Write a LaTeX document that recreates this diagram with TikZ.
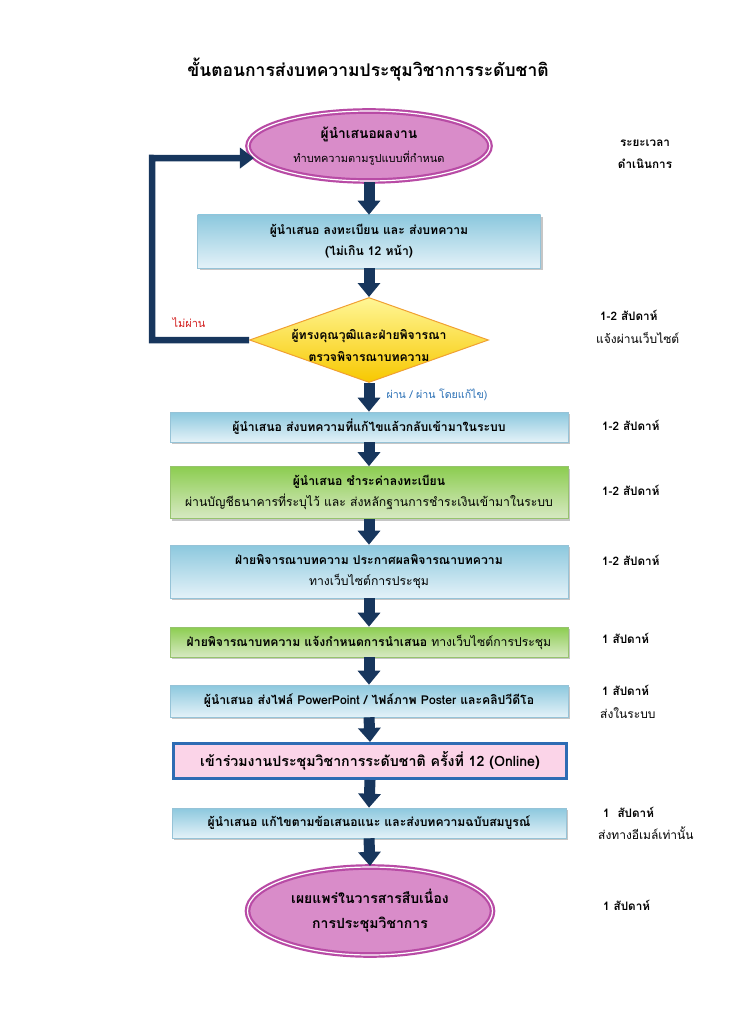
\documentclass[tikz,border=0pt]{standalone}
\usepackage{fontspec}
\newfontfamily\thai[Script=Thai]{Loma}
\usetikzlibrary{arrows.meta,shapes.geometric,shadows}
\definecolor{navy}{RGB}{23,54,93}
\definecolor{bluetop}{RGB}{140,200,222}
\definecolor{bluebot}{RGB}{228,242,248}
\definecolor{blueedge}{RGB}{150,195,215}
\definecolor{greentop}{RGB}{140,205,80}
\definecolor{greenbot}{RGB}{215,233,195}
\definecolor{greenedge}{RGB}{150,195,110}
\definecolor{ellfill}{RGB}{217,140,201}
\definecolor{elledge}{RGB}{184,75,165}
\definecolor{diatop}{RGB}{255,246,150}
\definecolor{diabot}{RGB}{247,200,0}
\definecolor{diaedge}{RGB}{240,160,50}
\definecolor{pinkfill}{RGB}{251,212,232}
\definecolor{pinkedge}{RGB}{46,108,180}
\definecolor{nopass}{RGB}{210,30,30}
\definecolor{passblue}{RGB}{40,110,180}
\begin{document}
\begin{tikzpicture}[x=1pt,y=-1pt,
  txt/.style={font=\thai\fontsize{12.2}{21}\selectfont, align=center},
  sidetxt/.style={font=\thai\fontsize{12}{21}\selectfont, anchor=west, inner sep=0pt},
  sidebold/.style={sidetxt, font=\thai\bfseries\fontsize{11.7}{21}\selectfont},
  shad/.style={drop shadow={shadow xshift=2pt, shadow yshift=-2pt, opacity=.45, fill=gray}},
  bluebox/.style={txt, shad, rectangle, inner sep=0pt, top color=bluetop, bottom color=bluebot, draw=blueedge, line width=.6pt},
  greenbox/.style={txt, shad, rectangle, inner sep=0pt, top color=greentop, bottom color=greenbot, draw=greenedge, line width=.6pt},
  pinkbox/.style={txt, rectangle, inner sep=0pt, fill=pinkfill, draw=pinkedge, line width=3pt},
  ellbox/.style={txt, ellipse, inner sep=0pt, fill=ellfill, draw=elledge, line width=2.2pt, double=white, double distance=1.2pt},
  diabox/.style={diamond, inner sep=0pt, top color=diatop, bottom color=diabot, draw=diaedge, line width=1pt},
  flow/.style={draw=navy, line width=11pt, -{Triangle[width=22pt,length=14pt]}},
  loopline/.style={draw=navy, line width=6.5pt, -{Triangle[width=20pt,length=14pt]}}
]
\useasboundingbox (0,0) rectangle (730,1032);

\node[font=\thai\bfseries\fontsize{17.5}{22}\selectfont] (title) at (368,70) {ขั้นตอนการส่งบทความประชุมวิชาการระดับชาติ};

\node[ellbox, minimum width=242pt, minimum height=70pt, font=\thai\fontsize{11}{24}\selectfont] (e1) at (369,146)
  {{\bfseries\fontsize{13.8}{24}\selectfont ผู้นำเสนอผลงาน}\\ทำบทความตามรูปแบบที่กำหนด};

\node[bluebox, minimum width=343pt, minimum height=53pt] (b2) at (369,241.5)
  {\bfseries ผู้นำเสนอ ลงทะเบียน และ ส่งบทความ\\\bfseries (ไม่เกิน 12 หน้า)};

\node[diabox, minimum width=239pt, minimum height=85pt] (d) at (369,340) {};
\node[txt, font=\thai\bfseries\fontsize{12.2}{22}\selectfont] (dt) at (369,345)
  {ผู้ทรงคุณวุฒิและฝ่ายพิจารณา\\ตรวจพิจารณาบทความ};

\node[txt, font=\thai\fontsize{11}{21}\selectfont, text=nopass] (np) at (189,323) {ไม่ผ่าน};
\node[txt, font=\thai\fontsize{10.6}{21}\selectfont, text=passblue, anchor=west] (ps) at (383,395) {ผ่าน / ผ่าน โดยแก้ไข)};

\node[bluebox, minimum width=398pt, minimum height=30pt] (b3) at (369,427)
  {\bfseries ผู้นำเสนอ ส่งบทความที่แก้ไขแล้วกลับเข้ามาในระบบ};

\node[greenbox, minimum width=398pt, minimum height=52pt] (b4) at (369,492.5)
  {{\bfseries ผู้นำเสนอ ชำระค่าลงทะเบียน}\\ผ่านบัญชีธนาคารที่ระบุไว้ และ ส่งหลักฐานการชำระเงินเข้ามาในระบบ};

\node[bluebox, minimum width=398pt, minimum height=53pt] (b5) at (369,571.5)
  {{\bfseries ฝ่ายพิจารณาบทความ ประกาศผลพิจารณาบทความ}\\ทางเว็บไซต์การประชุม};

\node[greenbox, minimum width=398pt, minimum height=30pt] (b6) at (369,642)
  {{\bfseries ฝ่ายพิจารณาบทความ แจ้งกำหนดการนำเสนอ} ทางเว็บไซต์การประชุม};

\node[bluebox, minimum width=398pt, minimum height=32pt] (b7) at (369,701)
  {\bfseries ผู้นำเสนอ ส่งไฟล์ PowerPoint / ไฟล์ภาพ Poster และคลิปวีดีโอ};

\node[pinkbox, minimum width=393pt, minimum height=35pt, font=\thai\bfseries\fontsize{14.2}{21}\selectfont] (b8) at (370,761)
  {เข้าร่วมงานประชุมวิชาการระดับชาติ ครั้งที่ 12 (Online)};

\node[bluebox, minimum width=394pt, minimum height=30pt] (b9) at (369,823)
  {\bfseries ผู้นำเสนอ แก้ไขตามข้อเสนอแนะ และส่งบทความฉบับสมบูรณ์};

\node[ellbox, minimum width=245pt, minimum height=88pt, font=\thai\bfseries\fontsize{14}{25}\selectfont] (e2) at (370,911)
  {เผยแพร่ในวารสารสืบเนื่อง\\การประชุมวิชาการ};

% right column
\node[txt, font=\thai\bfseries\fontsize{11.7}{22}\selectfont] (hd) at (645,154) {ระยะเวลา\\ดำเนินการ};
\node[sidebold] (t1) at (600,315) {1-2 สัปดาห์};
\node[sidetxt] (t1b) at (596,338) {แจ้งผ่านเว็บไซต์};
\node[sidebold] (t2) at (602,425) {1-2 สัปดาห์};
\node[sidebold] (t3) at (602,490) {1-2 สัปดาห์};
\node[sidebold] (t4) at (602,560) {1-2 สัปดาห์};
\node[sidebold] (t5) at (602,638) {1 สัปดาห์};
\node[sidebold] (t6) at (602,690) {1 สัปดาห์};
\node[sidetxt] (t6b) at (600,713) {ส่งในระบบ};
\node[sidebold] (t7) at (603,812) {1~~สัปดาห์};
\node[sidetxt] (t7b) at (598,833) {ส่งทางอีเมล์เท่านั้น};
\node[sidebold] (t8) at (603,905) {1 สัปดาห์};

% connectors
\draw[flow] (e1.south) -- (b2.north);
\draw[flow] (b2.south) -- (d.north);
\draw[flow] (d.south) -- (b3.north);
\draw[flow] (b3.south) -- (b4.north);
\draw[flow] (b4.south) -- (b5.north);
\draw[flow] (b5.south) -- (b6.north);
\draw[flow] (b6.south) -- (b7.north);
\draw[flow] (b7.south) -- (b8.north);
\draw[flow] (b8.south) -- (b9.north);
\draw[flow] (b9.south) -- (e2.north);

\coordinate (loopx) at (152,158);
\draw[loopline] (d.west) -| (loopx) -- (e1.186);
\end{tikzpicture}
\end{document}
